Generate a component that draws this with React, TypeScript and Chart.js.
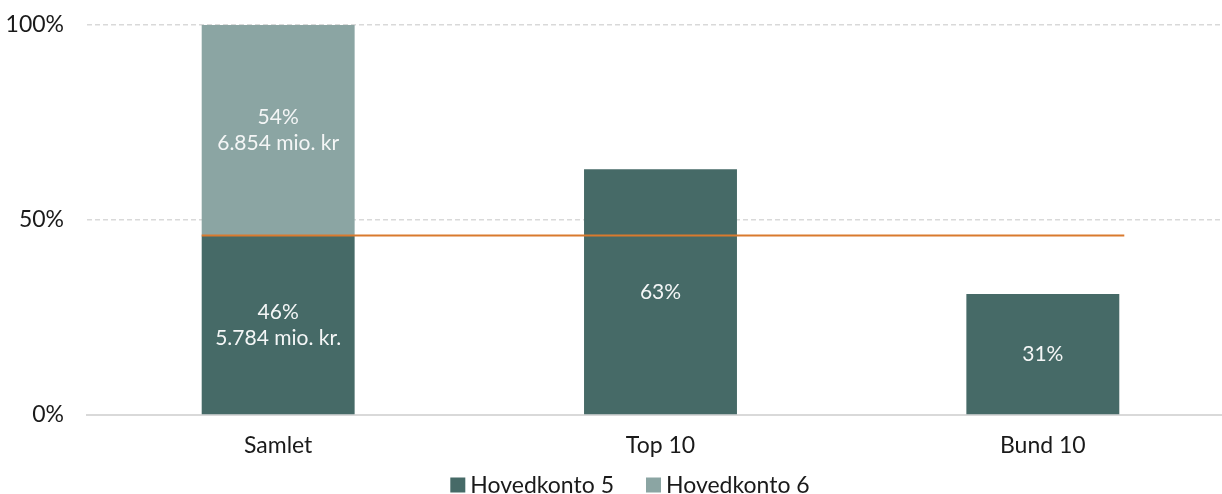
import React, { useEffect, useRef } from "react";
import { Chart, registerables } from "chart.js";

Chart.register(...registerables);

const categories = ["Samlet", "Top 10", "Bund 10"];
const hovedkonto5 = [46, 63, 31];
const hovedkonto6 = [54, null, null];
const hovedkonto5Labels = [["46%", "5.784 mio. kr."], ["63%"], ["31%"]];
const hovedkonto6Labels = [["54%", "6.854 mio. kr"], [], []];
const referenceValue = 46;
const yTicks = [0, 50, 100];

const DARK = "#466a67";
const LIGHT = "#8ba5a3";
const ORANGE = "#d97a2e";
const FONT = "Lato, 'Noto Sans', sans-serif";
const AXIS_SIZE = 23;

const allLabels = [hovedkonto5Labels, hovedkonto6Labels];

const barLabelPlugin = {
  id: "barLabels",
  afterDatasetsDraw(chart: any) {
    const ctx = chart.ctx;
    ctx.save();
    ctx.fillStyle = "#f4f6f6";
    ctx.font = `21px ${FONT}`;
    ctx.textAlign = "center";
    ctx.textBaseline = "middle";
    chart.data.datasets.forEach((ds: any, di: number) => {
      const meta = chart.getDatasetMeta(di);
      meta.data.forEach((el: any, i: number) => {
        const lines = allLabels[di][i] || [];
        if (!lines.length || ds.data[i] == null) return;
        const cy = (el.y + el.base) / 2;
        const lh = 26;
        const start = cy - ((lines.length - 1) * lh) / 2;
        lines.forEach((t: string, k: number) => ctx.fillText(t, el.x, start + k * lh));
      });
    });
    ctx.restore();
  },
};

const refLinePlugin = {
  id: "refLine",
  afterDatasetsDraw(chart: any) {
    const meta = chart.getDatasetMeta(0);
    const first = meta.data[0];
    const last = meta.data[meta.data.length - 1];
    if (!first || !last) return;
    const y = chart.scales.y.getPixelForValue(referenceValue);
    const ctx = chart.ctx;
    ctx.save();
    ctx.strokeStyle = ORANGE;
    ctx.lineWidth = 2;
    ctx.beginPath();
    ctx.moveTo(first.x - first.width / 2, y);
    ctx.lineTo(last.x + last.width / 2 + 5, y);
    ctx.stroke();
    ctx.restore();
  },
};

const legendPlugin = {
  id: "customLegend",
  afterDraw(chart: any) {
    const ctx = chart.ctx;
    ctx.save();
    ctx.font = `${AXIS_SIZE}px ${FONT}`;
    ctx.textBaseline = "middle";
    ctx.textAlign = "left";
    const box = 15;
    const gap = 5;
    const itemGap = 32;
    const items = chart.data.datasets.map((ds: any) => ({
      text: ds.label,
      color: ds.backgroundColor,
      w: box + gap + ctx.measureText(ds.label).width,
    }));
    const total = items.reduce((a: number, it: any) => a + it.w, 0) + itemGap * (items.length - 1);
    let x = chart.width / 2 + 13 - total / 2;
    const y = chart.height - 9;
    items.forEach((it: any) => {
      ctx.fillStyle = it.color;
      ctx.fillRect(x, y - box / 2, box, box);
      ctx.fillStyle = "#1a1a1a";
      ctx.fillText(it.text, x + box + gap, y + 1);
      x += it.w + itemGap;
    });
    ctx.restore();
  },
};

export default function App() {
  const ref = useRef<HTMLCanvasElement>(null);
  useEffect(() => {
    document.body.style.margin = "0";
    document.body.style.overflow = "hidden";
    const chart = new Chart(ref.current!, {
      type: "bar",
      data: {
        labels: categories,
        datasets: [
          { label: "Hovedkonto 5", data: hovedkonto5, backgroundColor: DARK, borderWidth: 0 },
          { label: "Hovedkonto 6", data: hovedkonto6 as any, backgroundColor: LIGHT, borderWidth: 0 },
        ],
      },
      options: {
        responsive: false,
        animation: false,
        devicePixelRatio: 1,
        layout: { padding: { top: 25, right: 0, left: 0, bottom: 34 } },
        datasets: { bar: { categoryPercentage: 0.8, barPercentage: 0.5 } },
        scales: {
          x: {
            stacked: true,
            afterFit: (s: any) => {
              s.height = 45;
            },
            grid: { display: false, drawTicks: false },
            border: { display: true, color: "#d9d9d9", width: 2 },
            ticks: { color: "#1a1a1a", font: { family: FONT, size: AXIS_SIZE }, padding: 17 },
          },
          y: {
            stacked: true,
            min: 0,
            max: 100,
            afterBuildTicks: (s: any) => {
              s.ticks = yTicks.map((v) => ({ value: v }));
            },
            afterFit: (s: any) => {
              s.width = 87;
              s.paddingTop = 0;
              s.paddingBottom = 0;
            },
            grid: {
              drawTicks: false,
              color: (c: any) => (c.tick && c.tick.value === 0 ? "rgba(0,0,0,0)" : "#d9d9d9"),
              lineWidth: 1.5,
            },
            border: { display: false, dash: [5, 3] },
            ticks: {
              color: "#1a1a1a",
              font: { family: FONT, size: AXIS_SIZE },
              padding: 23,
              callback: (v: any) => v + "%",
            },
          },
        },
        plugins: {
          legend: { display: false },
          tooltip: { enabled: false },
        },
      },
      plugins: [barLabelPlugin, refLinePlugin, legendPlugin],
    });
    return () => chart.destroy();
  }, []);
  return (
    <div style={{ width: 1234, height: 494 }}>
      <canvas ref={ref} width={1234} height={494} />
    </div>
  );
}
